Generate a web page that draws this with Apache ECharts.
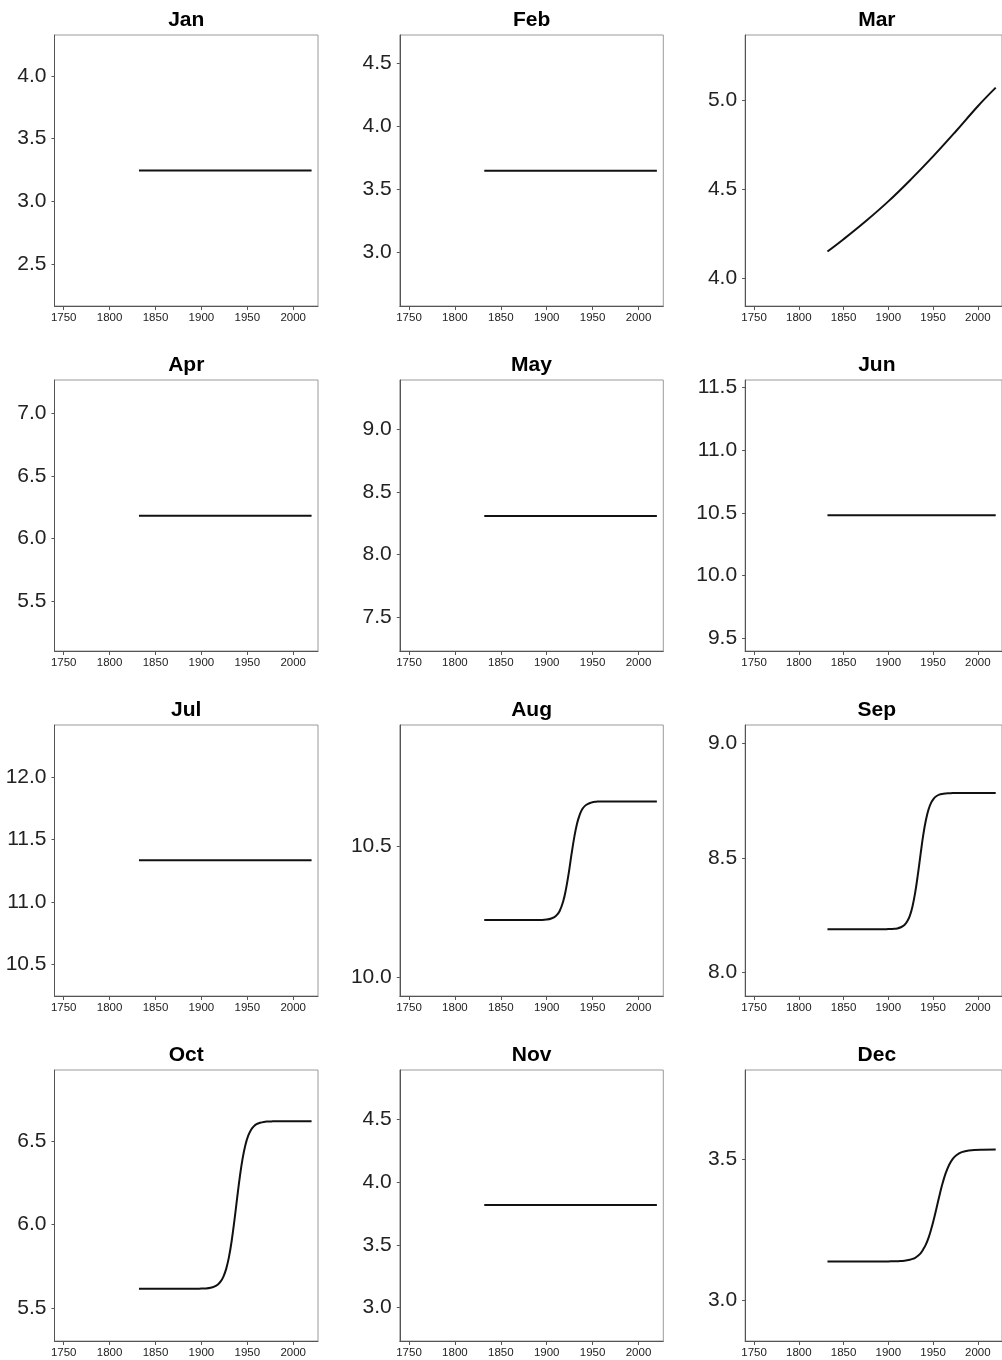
<!DOCTYPE html>
<html>
<head>
<meta charset="utf-8">
<script src="https://cdn.jsdelivr.net/npm/echarts@6/dist/echarts.min.js"></script>
<style>
  html, body { margin: 0; padding: 0; background: #fff; }
  #chart { width: 1002px; height: 1360px; }
</style>
</head>
<body>
<div id="chart"></div>
<script>
  // panel titles
  const months = ['Jan', 'Feb', 'Mar', 'Apr', 'May', 'Jun', 'Jul', 'Aug', 'Sep', 'Oct', 'Nov', 'Dec'];

  // x axis
  const xTicks = [1750, 1800, 1850, 1900, 1950, 2000];

  // flat months: start / end year
  const flatYears = [1832, 2020];
  const janValues = [3.246, 3.246];
  const febValues = [3.645, 3.645];
  const aprValues = [6.183, 6.183];
  const mayValues = [8.309, 8.309];
  const junValues = [10.481, 10.481];
  const julValues = [11.332, 11.332];
  const novValues = [3.817, 3.817];

  // March: slow rise
  const marYears = [1832, 1850, 1875, 1900, 1925, 1950, 1975, 2000, 2020];
  const marValues = [4.152, 4.221, 4.323, 4.433, 4.555, 4.685, 4.823, 4.966, 5.07];

  // step-like months
  const stepYears = [1832, 1860, 1890, 1900, 1905, 1910, 1914, 1918, 1921, 1924,
                     1927, 1930, 1933, 1936, 1939, 1942, 1945, 1948, 1951, 1954,
                     1957, 1960, 1964, 1968, 1972, 1976, 1982, 1990, 2005, 2020];
  const augValues = [10.219, 10.219, 10.219, 10.221, 10.225, 10.235, 10.253, 10.291, 10.337, 10.398,
                     10.469, 10.534, 10.586, 10.621, 10.643, 10.655, 10.662, 10.666, 10.669, 10.670,
                     10.671, 10.671, 10.671, 10.671, 10.671, 10.671, 10.671, 10.671, 10.671, 10.671];
  const sepValues = [8.188, 8.188, 8.188, 8.189, 8.190, 8.192, 8.197, 8.207, 8.222, 8.247,
                     8.288, 8.348, 8.427, 8.515, 8.599, 8.665, 8.712, 8.742, 8.760, 8.770,
                     8.776, 8.779, 8.781, 8.782, 8.783, 8.783, 8.783, 8.783, 8.783, 8.783];
  const octValues = [5.617, 5.617, 5.617, 5.618, 5.619, 5.623, 5.630, 5.643, 5.661, 5.690,
                     5.736, 5.806, 5.904, 6.027, 6.163, 6.292, 6.399, 6.478, 6.532, 6.566,
                     6.587, 6.600, 6.609, 6.614, 6.616, 6.617, 6.618, 6.618, 6.618, 6.618];
  const decValues = [3.137, 3.137, 3.137, 3.137, 3.1375, 3.138, 3.1386, 3.1397, 3.141, 3.143,
                     3.146, 3.150, 3.157, 3.166, 3.180, 3.198, 3.222, 3.253, 3.289, 3.329,
                     3.370, 3.408, 3.450, 3.481, 3.502, 3.515, 3.526, 3.532, 3.5346, 3.535];

  // y axis ranges and tick labels per panel
  const yMins = [2.165, 2.571, 3.847, 5.106, 7.231, 9.399, 10.246, 9.930, 7.897, 5.305, 2.734, 2.854];
  const yMaxs = [4.327, 4.722, 5.365, 7.263, 9.393, 11.561, 12.414, 10.962, 9.080, 6.924, 4.893, 3.818];
  const yTicks = [
    [2.5, 3.0, 3.5, 4.0],
    [3.0, 3.5, 4.0, 4.5],
    [4.0, 4.5, 5.0],
    [5.5, 6.0, 6.5, 7.0],
    [7.5, 8.0, 8.5, 9.0],
    [9.5, 10.0, 10.5, 11.0, 11.5],
    [10.5, 11.0, 11.5, 12.0],
    [10.0, 10.5],
    [8.0, 8.5, 9.0],
    [5.5, 6.0, 6.5],
    [3.0, 3.5, 4.0, 4.5],
    [3.0, 3.5]
  ];

  const panelYears = [flatYears, flatYears, marYears, flatYears, flatYears, flatYears,
                      flatYears, stepYears, stepYears, stepYears, flatYears, stepYears];
  const panelValues = [janValues, febValues, marValues, aprValues, mayValues, junValues,
                       julValues, augValues, sepValues, octValues, novValues, decValues];

  const FONT = '"Liberation Sans", Arial, Helvetica, sans-serif';
  const BOX_W = 263.5, BOX_H = 271;

  const grids = [], xAxes = [], yAxes = [], series = [], titles = [];

  months.forEach((m, i) => {
    const col = i % 3, row = Math.floor(i / 3);
    const left = 54.5 + col * 345.3;
    const top = 35 + row * 345;

    grids.push({
      left: left, top: top, width: BOX_W, height: BOX_H,
      show: true, borderColor: '#9a9a9a', borderWidth: 1, backgroundColor: '#fff'
    });

    titles.push({
      text: m,
      left: left + BOX_W / 2,
      top: top - 25,
      padding: 0,
      textAlign: 'center',
      textStyle: { fontFamily: FONT, fontSize: 21, fontWeight: 'bold', color: '#000' }
    });

    xAxes.push({
      type: 'value', gridIndex: i, min: 1740, max: 2027,
      axisLine: { show: true, onZero: false, lineStyle: { color: '#555', width: 1 } },
      axisTick: { show: true, length: 4, customValues: xTicks, lineStyle: { color: '#555' } },
      axisLabel: {
        customValues: xTicks, fontFamily: FONT, fontSize: 11.5, color: '#222', margin: 6,
        formatter: v => String(v)
      },
      splitLine: { show: false }
    });

    yAxes.push({
      type: 'value', gridIndex: i, min: yMins[i], max: yMaxs[i],
      axisLine: { show: true, onZero: false, lineStyle: { color: '#555', width: 1 } },
      axisTick: { show: true, length: 3, customValues: yTicks[i], lineStyle: { color: '#555' } },
      axisLabel: {
        customValues: yTicks[i], fontFamily: FONT, fontSize: 21, color: '#222', margin: 8,
        formatter: v => v.toFixed(1)
      },
      splitLine: { show: false }
    });

    series.push({
      type: 'line', xAxisIndex: i, yAxisIndex: i,
      data: panelYears[i].map((y, k) => [y, panelValues[i][k]]),
      showSymbol: false, smooth: 0.4,
      lineStyle: { color: '#111', width: 2 },
      silent: true, animation: false
    });
  });

  const chart = echarts.init(document.getElementById('chart'));
  chart.setOption({
    backgroundColor: '#fff',
    animation: false,
    title: titles,
    grid: grids,
    xAxis: xAxes,
    yAxis: yAxes,
    series: series
  });
</script>
</body>
</html>
